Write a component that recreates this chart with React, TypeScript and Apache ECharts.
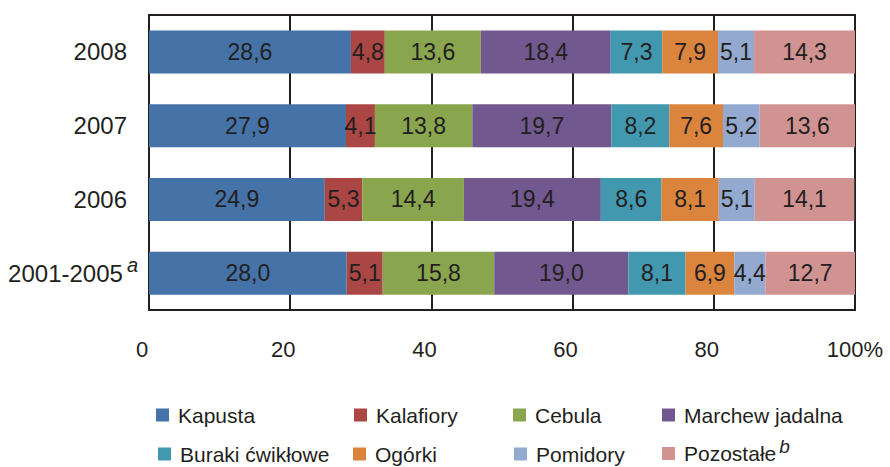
import React, { useEffect, useRef } from "react";
import * as echarts from "echarts";

const categories = ["2008", "2007", "2006", "2001-2005"];
const seriesNames = [
  "Kapusta",
  "Kalafiory",
  "Cebula",
  "Marchew jadalna",
  "Buraki ćwikłowe",
  "Ogórki",
  "Pomidory",
  "Pozostałe",
];
const kapusta = [28.6, 27.9, 24.9, 28.0];
const kalafiory = [4.8, 4.1, 5.3, 5.1];
const cebula = [13.6, 13.8, 14.4, 15.8];
const marchew = [18.4, 19.7, 19.4, 19.0];
const buraki = [7.3, 8.2, 8.6, 8.1];
const ogorki = [7.9, 7.6, 8.1, 6.9];
const pomidory = [5.1, 5.2, 5.1, 4.4];
const pozostale = [14.3, 13.6, 14.1, 12.7];
const xTicks = [0, 20, 40, 60, 80, 100];

const seriesData = [kapusta, kalafiory, cebula, marchew, buraki, ogorki, pomidory, pozostale];
const colors = ["#4572A7", "#AA4643", "#89A54E", "#71588F", "#4198AF", "#DB843D", "#93A9CF", "#D19392"];

const FONT = "'Liberation Sans', Arial, Helvetica, sans-serif";
const INK = "#231f20";

const legendPos = [
  { left: 156, top: 404 },
  { left: 354, top: 404 },
  { left: 513, top: 404 },
  { left: 662, top: 404 },
  { left: 158, top: 443 },
  { left: 353, top: 443 },
  { left: 514, top: 443 },
  { left: 662, top: 437 },
];

export default function App() {
  const ref = useRef<HTMLDivElement>(null);
  useEffect(() => {
    if (!ref.current) return;
    const chart = echarts.init(ref.current, null, { renderer: "svg" });
    const option: any = {
      animation: false,
      backgroundColor: "#ffffff",
      color: colors,
      textStyle: { fontFamily: FONT },
      grid: {
        left: 149,
        right: 35,
        top: 15,
        bottom: 157,
        show: true,
        borderColor: INK,
        borderWidth: 2,
      },
      xAxis: {
        type: "value",
        min: 0,
        max: 100,
        interval: 20,
        axisLine: { show: false },
        axisTick: { show: false },
        splitLine: { show: true, lineStyle: { color: INK, width: 2 } },
        axisLabel: {
          margin: 28,
          color: INK,
          fontFamily: FONT,
          fontSize: 22,
          formatter: (v: number) => {
            if (xTicks.indexOf(v) < 0) return "";
            return v === 100 ? "{p|100%}" : "{n|" + v + "}";
          },
          rich: {
            n: { fontSize: 22, fontFamily: FONT, color: INK, padding: [0, 14, 0, 0] },
            p: { fontSize: 22, fontFamily: FONT, color: INK },
          },
        },
      },
      yAxis: {
        type: "category",
        inverse: true,
        data: categories,
        axisLine: { show: false },
        axisTick: { show: false },
        axisLabel: {
          margin: 11,
          color: INK,
          formatter: (v: string) =>
            v === "2001-2005" ? "{n|" + v + "}{s|a}" : "{m|" + v + "}",
          rich: {
            n: { fontSize: 24, fontFamily: FONT, color: INK },
            m: { fontSize: 24, fontFamily: FONT, color: INK, padding: [0, 11, 0, 0] },
            s: {
              fontSize: 20,
              fontFamily: FONT,
              fontStyle: "italic",
              color: INK,
              padding: [0, 0, 16, 4],
            },
          },
        },
      },
      legend: seriesNames.map((name, i) => ({
        show: true,
        left: legendPos[i].left,
        top: legendPos[i].top,
        padding: 0,
        orient: "horizontal",
        data: [name],
        icon: "rect",
        itemWidth: 13,
        itemHeight: 13,
        selectedMode: false,
        formatter: (n: string) => (n === "Pozostałe" ? "Pozostałe{s|b}" : n),
        textStyle: {
          fontSize: 21,
          fontFamily: FONT,
          color: INK,
          lineHeight: 22,
          padding: [0, 0, 0, 4],
          rich: {
            s: {
              fontSize: 19,
              fontFamily: FONT,
              fontStyle: "italic",
              color: INK,
              padding: [0, 0, 14, 3],
            },
          },
        },
      })),
      series: seriesNames.map((name, i) => ({
        name,
        type: "bar",
        stack: "total",
        barWidth: 43,
        data: seriesData[i],
        itemStyle: { color: colors[i] },
        label: {
          show: true,
          position: "inside",
          color: INK,
          fontSize: 23,
          fontFamily: FONT,
          formatter: (p: any) => Number(p.value).toFixed(1).replace(".", ","),
        },
      })),
    };
    chart.setOption(option);
    return () => chart.dispose();
  }, []);
  return (
    <div
      ref={ref}
      style={{ position: "fixed", left: 0, top: 0, width: 890, height: 467, background: "#fff" }}
    />
  );
}
